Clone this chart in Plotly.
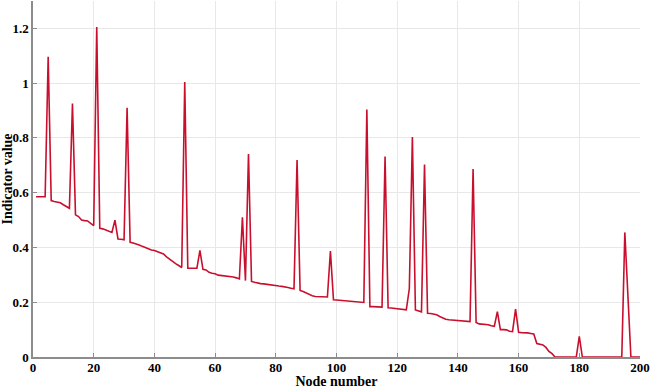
import plotly.graph_objects as go

# node numbers and indicator values
nodes = list(range(1, 201))
indicator = [
    0.585, 0.585, 0.585, 0.585, 1.096, 0.571, 0.568, 0.565, 0.563, 0.556,
    0.548, 0.543, 0.926, 0.519, 0.513, 0.500, 0.498, 0.497, 0.488, 0.480,
    1.205, 0.470, 0.468, 0.463, 0.458, 0.455, 0.500, 0.431, 0.430, 0.428,
    0.910, 0.419, 0.416, 0.413, 0.409, 0.404, 0.399, 0.395, 0.391, 0.389,
    0.385, 0.380, 0.376, 0.366, 0.357, 0.348, 0.341, 0.334, 0.327, 1.004,
    0.324, 0.324, 0.324, 0.324, 0.389, 0.320, 0.318, 0.309, 0.306, 0.304,
    0.299, 0.298, 0.297, 0.296, 0.294, 0.292, 0.289, 0.285, 0.510, 0.279,
    0.741, 0.276, 0.273, 0.270, 0.268, 0.267, 0.265, 0.263, 0.261, 0.260,
    0.259, 0.258, 0.257, 0.254, 0.251, 0.249, 0.719, 0.243, 0.239, 0.233,
    0.227, 0.224, 0.221, 0.220, 0.220, 0.219, 0.219, 0.387, 0.209, 0.208,
    0.207, 0.206, 0.205, 0.204, 0.203, 0.202, 0.201, 0.200, 0.199, 0.904,
    0.184, 0.184, 0.183, 0.183, 0.182, 0.732, 0.180, 0.179, 0.178, 0.177,
    0.176, 0.174, 0.172, 0.250, 0.803, 0.172, 0.168, 0.165, 0.703, 0.160,
    0.159, 0.157, 0.154, 0.148, 0.142, 0.138, 0.136, 0.135, 0.134, 0.133,
    0.132, 0.131, 0.130, 0.129, 0.686, 0.126, 0.121, 0.120, 0.119, 0.118,
    0.114, 0.112, 0.166, 0.100, 0.100, 0.099, 0.094, 0.093, 0.175, 0.090,
    0.089, 0.089, 0.088, 0.086, 0.084, 0.049, 0.046, 0.044, 0.035, 0.020,
    0.012, 0.0, 0.0, 0.0, 0.0, 0.0, 0.0, 0.0, 0.0, 0.075,
    0.0, 0.0, 0.0, 0.0, 0.0, 0.0, 0.0, 0.0, 0.0, 0.0,
    0.0, 0.0, 0.0, 0.0, 0.455, 0.240, 0.0, 0.0, 0.0, 0.0,
]
assert len(indicator) == len(nodes)

x_ticks = [0, 20, 40, 60, 80, 100, 120, 140, 160, 180, 200]
y_ticks = [0, 0.2, 0.4, 0.6, 0.8, 1, 1.2]

font_bold = dict(family="Liberation Serif", size=13, color="black", weight="bold")
title_font = dict(family="Liberation Serif", size=14, color="black", weight="bold")

fig = go.Figure()
fig.add_trace(go.Scatter(
    x=nodes,
    y=indicator,
    mode="lines",
    line=dict(color="#C8102E", width=1.6),
    showlegend=False,
))

fig.update_layout(
    width=650,
    height=389,
    margin=dict(l=33, r=10, t=1, b=32, autoexpand=False),
    plot_bgcolor="white",
    paper_bgcolor="white",
    font=font_bold,
)
fig.update_xaxes(
    range=[0, 200],
    tickvals=x_ticks,
    automargin=False,
    showgrid=True, gridcolor="#e8e8e8", gridwidth=1,
    showline=True, linecolor="#8c8c8c", linewidth=1.5,
    ticks="inside", ticklen=4, tickcolor="#8c8c8c",
    ticklabelstandoff=-2,
    zeroline=False,
    tickfont=font_bold,
    title=dict(text="Node number", font=title_font, standoff=1),
)
fig.update_yaxes(
    range=[0, 1.3],
    tickvals=y_ticks,
    automargin=False,
    showgrid=True, gridcolor="#e8e8e8", gridwidth=1,
    showline=True, linecolor="#8c8c8c", linewidth=1.5,
    ticks="inside", ticklen=4, tickcolor="#8c8c8c",
    zeroline=False,
    tickfont=font_bold,
    title=dict(text="Indicator value", font=title_font, standoff=0),
)

# page body has a default margin; remove it so the figure sits at 0,0
fig.write_html(
    "out.html",
    config={"displayModeBar": False},
    post_script="document.body.style.margin='0';",
)
